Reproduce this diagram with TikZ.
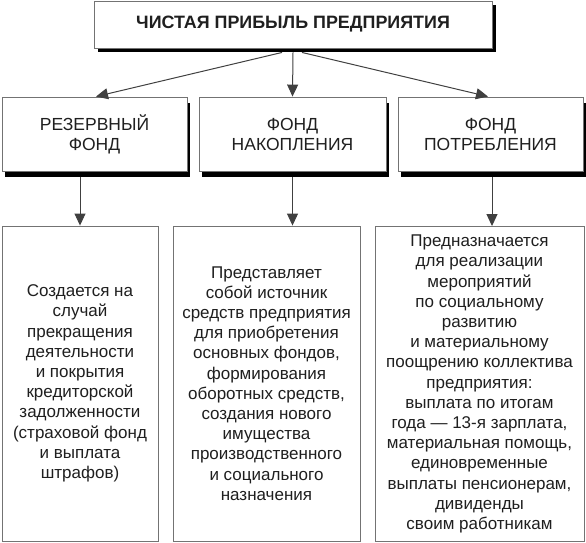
\documentclass[tikz,border=0pt]{standalone}
\usepackage{fontspec}
\setmainfont{Liberation Sans}
\usetikzlibrary{arrows.meta,shadows,calc}
\begin{document}
\begin{tikzpicture}[x=1pt,y=-1pt,
  box/.style={draw=black!55,line width=0.9pt,fill=white,inner sep=0pt,align=center,text=black!88},
  topbox/.style={box,minimum width=398pt,minimum height=47pt,
    font=\fontsize{17.9}{20}\selectfont\bfseries,
    drop shadow={shadow xshift=4pt,shadow yshift=-4pt,fill=black,opacity=1}},
  midbox/.style={box,minimum height=74pt,
    font=\fontsize{17.5}{20}\selectfont,
    drop shadow={shadow xshift=3pt,shadow yshift=-6pt,fill=black,opacity=1}},
  lowbox/.style={box,minimum height=315pt,font=\fontsize{17}{20.2}\selectfont},
  arr/.style={draw=black!75,line width=1pt,-{Triangle[length=12pt,width=11pt]}}
]
\useasboundingbox (0,0) rectangle (586,542);

\node[topbox] (top) at (293,24.5) {ЧИСТАЯ ПРИБЫЛЬ ПРЕДПРИЯТИЯ};

\node[midbox,minimum width=185pt] (res) at (94.5,134) {РЕЗЕРВНЫЙ\\ФОНД};
\node[midbox,minimum width=187pt] (nak) at (292.5,134) {ФОНД\\НАКОПЛЕНИЯ};
\node[midbox,minimum width=185pt] (pot) at (490.5,134) {ФОНД\\ПОТРЕБЛЕНИЯ};

\node[lowbox,minimum width=156pt] (d1) at (80,383.5) {Создается на\\случай\\прекращения\\деятельности\\и покрытия\\кредиторской\\задолженности\\(страховой фонд\\и выплата\\штрафов)};
\node[lowbox,minimum width=187pt] (d2) at (266.5,383.5) {Представляет\\собой источник\\средств предприятия\\для приобретения\\основных фондов,\\формирования\\оборотных средств,\\создания нового\\имущества\\производственного\\и социального\\назначения};
\node[lowbox,minimum width=209pt] (d3) at (479.5,384) {Предназначается\\для реализации\\мероприятий\\по социальному\\развитию\\и материальному\\поощрению коллектива\\предприятия:\\выплата по итогам\\года — 13-я зарплата,\\материальная помощь,\\единовременные\\выплаты пенсионерам,\\дивиденды\\своим работникам};

\draw[arr] ([xshift=-11pt,yshift=-4pt]top.south) -- ([xshift=1.5pt]res.north);
\draw[arr] ([yshift=-4pt]top.south) -- (nak.north);
\draw[arr] ([xshift=9pt,yshift=-4pt]top.south) -- ([xshift=-2.5pt]pot.north);

\draw[arr] ($(res.south -| d1.north)+(0,6)$) -- (d1.north);
\draw[arr] ($(nak.south)+(0,6)$) -- (nak.south |- d2.north);
\draw[arr] ($(pot.south)+(1.5,6)$) -- ($(pot.south |- d3.north)+(1.5,0)$);
\end{tikzpicture}
\end{document}
